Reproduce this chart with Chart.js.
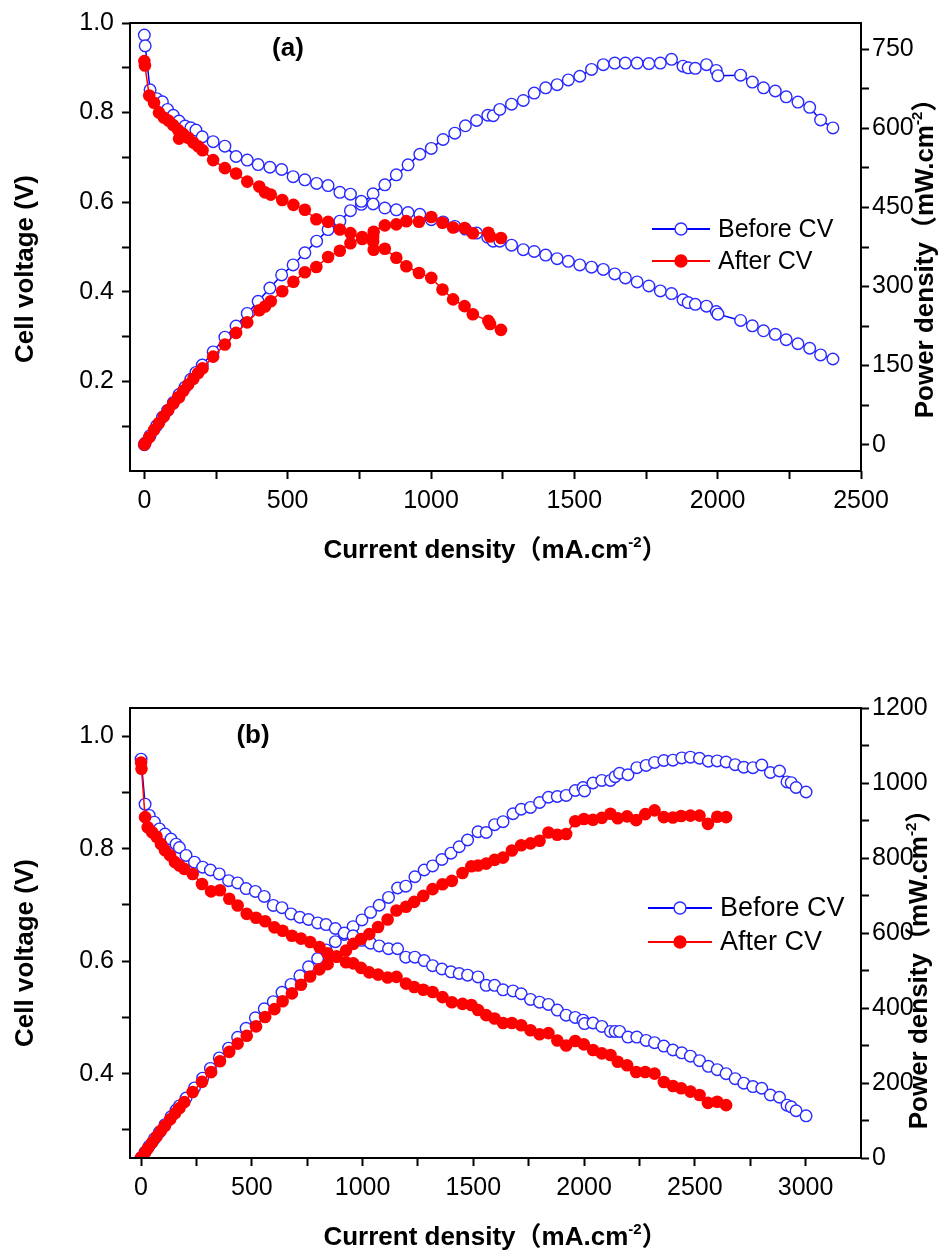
<!DOCTYPE html>
<html>
<head>
<meta charset="utf-8">
<title>Polarization curves before / after CV</title>
<script src="https://cdn.jsdelivr.net/npm/chart.js@4.4.1/dist/chart.umd.min.js"></script>
<style>
  html, body { margin: 0; padding: 0; background: #fff; }
  #wrap { position: relative; width: 944px; height: 1253px; }
  canvas { position: absolute; left: 0; }
  #chartA { top: 0; }
  #chartB { top: 640px; }
</style>
</head>
<body>
<div id="wrap">
  <canvas id="chartA" width="944" height="600"></canvas>
  <canvas id="chartB" width="944" height="613"></canvas>
</div>
<script>
//panel (a) - current density (mA/cm2), cell voltage (V), power density (mW/cm2)
const beforeA_I = [0,3,20,43,63,81,101,121,142,162,180,202,240,281,320,359,397,438,479,519,
  560,601,641,682,719,757,798,839,879,920,961,1001,1042,1083,1120,1159,1198,1217,1240,1281,
  1322,1360,1400,1440,1479,1519,1560,1601,1641,1678,1719,1760,1800,1839,1879,1897,1922,1961,1995,2001,
  2080,2121,2160,2201,2239,2280,2321,2359,2402];
const beforeA_V = [0.973,0.949,0.851,0.831,0.824,0.807,0.794,0.781,0.770,0.766,0.761,0.746,0.735,0.725,0.702,0.694,0.684,0.678,0.673,0.657,
  0.650,0.642,0.637,0.622,0.618,0.602,0.596,0.587,0.583,0.577,0.573,0.561,0.556,0.546,0.540,0.531,0.522,0.513,0.513,0.504,
  0.494,0.490,0.482,0.474,0.468,0.460,0.455,0.450,0.440,0.431,0.422,0.413,0.402,0.396,0.382,0.376,0.372,0.368,0.356,0.350,
  0.336,0.324,0.313,0.305,0.293,0.284,0.274,0.259,0.250];
const beforeA_P = [0,3,17,36,52,65,80,95,109,124,137,151,176,204,225,249,272,297,322,341,
  364,386,408,424,444,456,476,493,512,531,551,562,579,591,605,615,625,624,636,646,
  653,667,677,683,692,699,712,721,724,724,724,723,724,731,718,715,714,721,710,700,
  701,688,677,671,660,650,640,616,601];

const afterA_I = [0,2,17,34,51,68,84,101,118,121,136,153,171,188,203,240,281,320,359,401,
  421,441,481,520,560,600,641,682,719,760,798,800,839,879,914,958,1001,1040,1077,1117,
  1146,1200,1206,1244];
const afterA_V = [0.915,0.905,0.838,0.822,0.800,0.789,0.782,0.772,0.761,0.742,0.752,0.744,0.733,0.725,0.716,0.694,0.676,0.664,0.646,0.635,
  0.622,0.617,0.605,0.594,0.583,0.562,0.556,0.539,0.531,0.518,0.513,0.494,0.496,0.476,0.457,0.442,0.431,0.405,0.383,0.368,
  0.350,0.335,0.328,0.315];
const afterA_P = [0,2,14,28,41,54,66,78,90,90,102,114,125,136,145,167,190,212,232,255,
  262,272,291,309,327,337,356,368,382,394,394,404,416,418,424,423,432,421,412,411,
  401,402,395,392];

//panel (b)
const beforeB_I = [0,18,37,60,83,108,135,158,173,203,241,278,313,353,395,436,474,516,556,597,
  636,677,717,756,797,835,877,917,957,997,1036,1075,1117,1158,1195,1236,1278,1316,1358,1399,
  1436,1474,1521,1558,1596,1634,1679,1716,1758,1799,1839,1879,1919,1960,1995,2002,2040,2080,2119,2140,
  2160,2198,2238,2280,2318,2360,2401,2441,2480,2521,2561,2601,2641,2682,2721,2762,2802,2841,2882,2916,
  2935,2957,3002];
const beforeB_V = [0.959,0.879,0.859,0.847,0.835,0.826,0.817,0.808,0.802,0.788,0.776,0.767,0.762,0.755,0.743,0.739,0.729,0.724,0.715,0.699,
  0.695,0.684,0.678,0.674,0.668,0.665,0.658,0.650,0.645,0.637,0.632,0.627,0.622,0.622,0.607,0.607,0.601,0.592,0.586,0.581,
  0.578,0.575,0.572,0.557,0.557,0.549,0.547,0.542,0.532,0.527,0.523,0.513,0.504,0.500,0.495,0.489,0.490,0.484,0.475,0.475,
  0.475,0.465,0.465,0.459,0.455,0.449,0.442,0.437,0.431,0.423,0.413,0.407,0.400,0.391,0.383,0.377,0.374,0.362,0.358,0.344,
  0.341,0.334,0.325];
const beforeB_P = [0,16,32,51,69,89,110,128,139,160,187,213,239,267,293,322,346,374,398,417,
  442,463,486,510,532,555,577,596,617,635,655,674,695,720,725,750,768,779,796,813,
  830,848,870,868,889,897,918,930,935,948,962,964,967,980,988,979,1000,1007,1007,1017,
  1026,1022,1041,1047,1055,1060,1061,1067,1069,1066,1058,1059,1056,1049,1042,1041,1048,1028,1032,1003,
  1001,988,976];

const afterB_I = [0,2,18,30,50,70,90,108,131,153,173,195,233,275,316,356,398,436,477,519,
  560,602,639,681,722,763,805,842,883,925,958,993,1030,1070,1113,1153,1196,1233,1274,1316,
  1361,1403,1451,1491,1521,1558,1596,1634,1674,1716,1758,1799,1839,1879,1919,1960,1999,2040,2080,2119,
  2152,2194,2235,2276,2318,2360,2401,2438,2480,2521,2559,2601,2641];
const afterB_V = [0.953,0.942,0.856,0.838,0.829,0.821,0.808,0.797,0.788,0.776,0.770,0.764,0.755,0.737,0.724,0.726,0.711,0.699,0.684,0.677,
  0.671,0.660,0.654,0.645,0.640,0.634,0.625,0.614,0.608,0.598,0.596,0.588,0.580,0.576,0.571,0.572,0.560,0.554,0.549,0.545,
  0.536,0.527,0.524,0.522,0.513,0.504,0.498,0.490,0.490,0.486,0.477,0.470,0.472,0.459,0.450,0.458,0.452,0.442,0.436,0.433,
  0.421,0.415,0.403,0.403,0.400,0.385,0.378,0.374,0.368,0.362,0.348,0.350,0.344];
const afterB_P = [0,2,15,25,41,57,73,86,103,119,133,149,176,203,229,258,283,305,326,351,
  376,397,418,439,462,484,503,517,537,553,571,584,597,616,636,660,670,683,699,717,
  730,739,760,778,780,785,795,801,820,834,839,846,868,862,864,898,904,902,907,918,
  906,911,901,917,927,909,908,912,913,913,891,910,909];

//tick values (major ticks carry labels, minor ticks are blank)
const xTicksA = [0,500,1000,1500,2000,2500];
const xMinorA = [250,750,1250,1750,2250];
const vTicksA = [0.2,0.4,0.6,0.8,1.0];
const vMinorA = [0.1,0.3,0.5,0.7,0.9];
const pTicksA = [0,150,300,450,600,750];
const pMinorA = [75,225,375,525,675];

const xTicksB = [0,500,1000,1500,2000,2500,3000];
const xMinorB = [250,750,1250,1750,2250,2750];
const vTicksB = [0.4,0.6,0.8,1.0];
const vMinorB = [0.3,0.5,0.7,0.9];
const pTicksB = [0,200,400,600,800,1000,1200];
const pMinorB = [100,300,500,700,900,1100];

const FONT = "'Liberation Sans', Arial, 'Noto Sans CJK SC', sans-serif";
const BLUE = '#0000ff';
const RED = '#ff0000';

const xTitle = [{ t: 'Current density（mA.cm' }, { t: '-2', sup: true }, { t: '）' }];
const vTitle = [{ t: 'Cell voltage (V)' }];
const pTitle = [{ t: 'Power density（mW.cm' }, { t: '-2', sup: true }, { t: '）' }];

function pts(xs, ys) {
  return xs.map((x, i) => ({ x: x, y: ys[i] }));
}

function axis(pos, min, max, major, minor, digits, size, pad) {
  return {
    type: 'linear',
    position: pos,
    min: min,
    max: max,
    afterBuildTicks: s => {
      s.ticks = major.concat(minor).sort((a, b) => a - b).map(v => ({ value: v }));
    },
    afterFit: s => {
      if (s.isHorizontal()) s.height = size;
      else s.width = size;
    },
    grid: { display: true, drawOnChartArea: false, drawTicks: true, tickLength: 8, tickWidth: 2, tickColor: '#000' },
    border: { display: false },
    ticks: {
      autoSkip: false,
      maxRotation: 0,
      padding: pad,
      color: '#000',
      font: { family: FONT, size: 25 },
      callback: v => major.some(m => Math.abs(m - v) < 1e-9) ? v.toFixed(digits) : ''
    }
  };
}

//text with a superscript part, centred on (x, y) baseline, optionally rotated
function rich(ctx, parts, x, y, rot) {
  const big = 'bold 26px ' + FONT;
  const small = 'bold 15px ' + FONT;
  let w = 0;
  parts.forEach(p => {
    ctx.font = p.sup ? small : big;
    p.w = ctx.measureText(p.t).width;
    w += p.w;
  });
  ctx.save();
  ctx.translate(x, y);
  ctx.rotate(rot);
  ctx.textAlign = 'left';
  ctx.textBaseline = 'alphabetic';
  ctx.fillStyle = '#000';
  let cx = -w / 2;
  parts.forEach(p => {
    ctx.font = p.sup ? small : big;
    ctx.fillText(p.t, cx, p.sup ? -11 : 0);
    cx += p.w;
  });
  ctx.restore();
}

const decor = {
  id: 'decor',
  afterDraw(chart, args, o) {
    const { ctx, chartArea: a } = chart;
    const midX = (a.left + a.right) / 2;
    const midY = (a.top + a.bottom) / 2;
    ctx.save();
    //frame
    ctx.strokeStyle = '#000';
    ctx.lineWidth = 2;
    ctx.strokeRect(a.left, a.top, a.right - a.left, a.bottom - a.top);
    //panel label
    ctx.fillStyle = '#000';
    ctx.font = 'bold 26px ' + FONT;
    ctx.textAlign = 'center';
    ctx.textBaseline = 'alphabetic';
    ctx.fillText(o.label, a.left + o.labelDx, a.top + o.labelDy);
    //axis titles
    rich(ctx, xTitle, midX, a.bottom + 87, 0);
    rich(ctx, vTitle, 33, midY + o.vTitleDy, -Math.PI / 2);
    rich(ctx, pTitle, a.right + o.pTitleDx, midY + o.pTitleDy, -Math.PI / 2);
    //legend
    const items = chart.data.datasets.filter(d => d.inLegend);
    items.forEach((d, k) => {
      const y = a.top + o.legDy + k * o.legGap;
      const x0 = a.right + o.legX0, x1 = a.right + o.legX1;
      ctx.strokeStyle = d.borderColor;
      ctx.lineWidth = 2;
      ctx.beginPath();
      ctx.moveTo(x0, y);
      ctx.lineTo(x1, y);
      ctx.stroke();
      ctx.beginPath();
      ctx.arc((x0 + x1) / 2, y, 6, 0, Math.PI * 2);
      ctx.fillStyle = d.pointBackgroundColor;
      ctx.fill();
      ctx.lineWidth = 1.4;
      ctx.strokeStyle = d.pointBorderColor;
      ctx.stroke();
      ctx.fillStyle = '#000';
      ctx.font = o.legFont + 'px ' + FONT;
      ctx.textAlign = 'left';
      ctx.textBaseline = 'middle';
      ctx.fillText(d.label, a.right + o.legTx, y + 1);
    });
    ctx.restore();
  }
};

function beforeStyle(label, inLegend) {
  return {
    label: label, inLegend: inLegend, order: 2,
    borderColor: BLUE, borderWidth: 1.5,
    pointRadius: 5.8, pointBorderWidth: 1.4,
    pointBorderColor: '#2a2aff', pointBackgroundColor: '#fff', tension: 0
  };
}

function afterStyle(label, inLegend) {
  return {
    label: label, inLegend: inLegend, order: 1,
    borderColor: RED, borderWidth: 1.5,
    pointRadius: 6.3, pointBorderWidth: 0,
    pointBorderColor: RED, pointBackgroundColor: RED, tension: 0
  };
}

function makeChart(id, p) {
  return new Chart(document.getElementById(id), {
    type: 'line',
    data: {
      datasets: [
        Object.assign(beforeStyle('Before CV', true), { data: pts(p.bI, p.bV), yAxisID: 'y' }),
        Object.assign(beforeStyle('Before CV power', false), { data: pts(p.bI, p.bP), yAxisID: 'y1' }),
        Object.assign(afterStyle('After CV', true), { data: pts(p.aI, p.aV), yAxisID: 'y' }),
        Object.assign(afterStyle('After CV power', false), { data: pts(p.aI, p.aP), yAxisID: 'y1' })
      ]
    },
    options: {
      responsive: false,
      animation: false,
      devicePixelRatio: 1,
      layout: { padding: { top: p.top, left: 0, right: 0, bottom: 0 } },
      scales: {
        x: axis('bottom', p.xMin, p.xMax, p.xT, p.xM, 0, p.xH, 7),
        y: axis('left', p.vMin, p.vMax, p.vT, p.vM, 1, 130, 8),
        y1: axis('right', p.pMin, p.pMax, p.pT, p.pM, 0, 83, 3)
      },
      plugins: {
        legend: { display: false },
        tooltip: { enabled: false },
        decor: p.decor
      }
    },
    plugins: [decor]
  });
}

makeChart('chartA', {
  bI: beforeA_I, bV: beforeA_V, bP: beforeA_P,
  aI: afterA_I, aV: afterA_V, aP: afterA_P,
  top: 21, xH: 129,
  xMin: -50, xMax: 2500, xT: xTicksA, xM: xMinorA,
  vMin: 0, vMax: 1.0, vT: vTicksA, vM: vMinorA,
  pMin: -50, pMax: 800, pT: pTicksA, pM: pMinorA,
  decor: {
    label: '(a)', labelDx: 158, labelDy: 33,
    vTitleDy: 22, pTitleDx: 72, pTitleDy: 5,
    legDy: 206, legGap: 32, legX0: -209, legX1: -151, legTx: -143, legFont: 25
  }
});

makeChart('chartB', {
  bI: beforeB_I, bV: beforeB_V, bP: beforeB_P,
  aI: afterB_I, aV: afterB_V, aP: afterB_P,
  top: 68, xH: 95,
  xMin: -50, xMax: 3250, xT: xTicksB, xM: xMinorB,
  vMin: 0.25, vMax: 1.05, vT: vTicksB, vM: vMinorB,
  pMin: 0, pMax: 1200, pT: pTicksB, pM: pMinorB,
  decor: {
    label: '(b)', labelDx: 123, labelDy: 35,
    vTitleDy: 20, pTitleDx: 66, pTitleDy: 30,
    legDy: 200, legGap: 34, legX0: -213, legX1: -149, legTx: -141, legFont: 27
  }
});
</script>
</body>
</html>
